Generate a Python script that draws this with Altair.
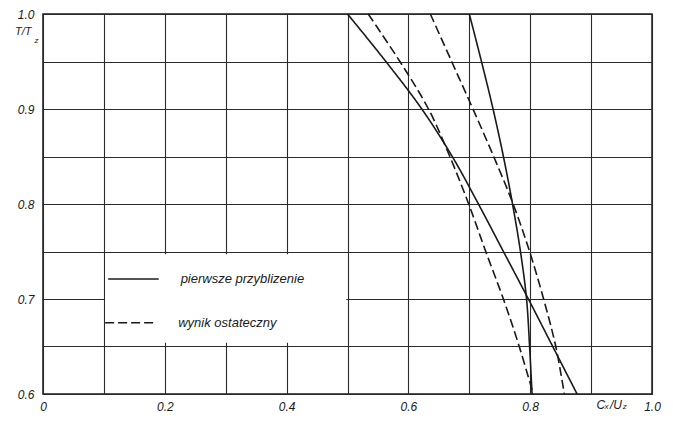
import altair as alt
import pandas as pd

# T/Tz levels at which the curves were read
levels = [1.00, 0.95, 0.90, 0.85, 0.80, 0.75, 0.70, 0.65, 0.60]
# Cx/Uz values of each curve at those levels
solid_a_x = [0.500, 0.563, 0.622, 0.672, 0.715, 0.756, 0.797, 0.837, 0.877]
solid_b_x = [0.700, 0.720, 0.739, 0.756, 0.771, 0.784, 0.794, 0.799, 0.803]
dashed_c_x = [0.534, 0.586, 0.633, 0.668, 0.699, 0.727, 0.756, 0.782, 0.805]
dashed_d_x = [0.636, 0.671, 0.706, 0.740, 0.772, 0.799, 0.822, 0.842, 0.856]

series_names = ["pierwsze przyblizenie", "wynik ostateczny"]

x_ticks = [0.0, 0.1, 0.2, 0.3, 0.4, 0.5, 0.6, 0.7, 0.8, 0.9, 1.0]
y_ticks = [0.60, 0.65, 0.70, 0.75, 0.80, 0.85, 0.90, 0.95, 1.00]

# legend layout (data coordinates)
legend_box = {"x": 0.102, "x2": 0.498, "y": 0.654, "y2": 0.747}
legend_rows = [
    {"name": series_names[0], "x": 0.107, "x2": 0.190, "y": 0.721, "tx": 0.226},
    {"name": series_names[1], "x": 0.102, "x2": 0.186, "y": 0.675, "tx": 0.222},
]

# axis titles, split so subscripts can be smaller and lowered
title_parts = [
    {"t": "T/T", "x": -0.046, "y": 0.981, "s": 11},
    {"t": "z", "x": -0.014, "y": 0.972, "s": 8},
    {"t": "C", "x": 0.909, "y": 0.588, "s": 12},
    {"t": "x", "x": 0.922, "y": 0.586, "s": 8},
    {"t": "/U", "x": 0.931, "y": 0.588, "s": 12},
    {"t": "z", "x": 0.952, "y": 0.586, "s": 8},
]

rows = []
for cid, xs, sname in [
    ("A", solid_a_x, series_names[0]),
    ("B", solid_b_x, series_names[0]),
    ("C", dashed_c_x, series_names[1]),
    ("D", dashed_d_x, series_names[1]),
]:
    for i, (xv, yv) in enumerate(zip(xs, levels)):
        rows.append({"curve": cid, "series": sname, "i": i, "x": xv, "y": yv})
df = pd.DataFrame(rows)

FONT = "Liberation Sans"
INK = "#1a1a1a"

xscale = alt.Scale(domain=[0, 1], nice=False, zero=False)
yscale = alt.Scale(domain=[0.6, 1.0], nice=False, zero=False)
dash_scale = alt.Scale(domain=series_names, range=[[1, 0], [9, 4]])

x_axis = alt.Axis(
    values=x_ticks, grid=True, ticks=False, domain=False, title=None,
    labelExpr="datum.value == 0 ? '0' : (round(datum.value*10) % 2 == 0 && datum.value < 0.95 ? format(datum.value, '.1f') : (datum.value > 0.95 ? '1.0' : ''))",
    labelFont=FONT, labelFontStyle="italic", labelFontSize=12, labelColor=INK,
    labelPadding=7, gridColor="#2a2a2a", gridWidth=1.1, labelFlush=False,
)
y_axis = alt.Axis(
    values=y_ticks, grid=True, ticks=False, domain=False, title=None,
    labelExpr="round(datum.value*100) % 10 == 0 ? format(datum.value, '.1f') : ''",
    labelFont=FONT, labelFontStyle="italic", labelFontSize=12, labelColor=INK,
    labelPadding=9, gridColor="#2a2a2a", gridWidth=1.1, labelFlush=False,
)

box = alt.Chart(pd.DataFrame([legend_box])).mark_rect(color="white").encode(
    x=alt.X("x:Q", scale=xscale, axis=x_axis),
    x2="x2:Q",
    y=alt.Y("y:Q", scale=yscale, axis=y_axis),
    y2="y2:Q",
)

lines = alt.Chart(df).mark_line(color=INK, strokeWidth=1.6, interpolate="catmull-rom").encode(
    x=alt.X("x:Q", scale=xscale),
    y=alt.Y("y:Q", scale=yscale),
    detail="curve:N",
    order="i:Q",
    strokeDash=alt.StrokeDash("series:N", scale=dash_scale, legend=None),
)

leg_df = pd.DataFrame(legend_rows)
leg_lines = alt.Chart(leg_df).mark_rule(color=INK, strokeWidth=1.6).encode(
    x="x:Q", x2="x2:Q", y="y:Q",
    strokeDash=alt.StrokeDash("name:N", scale=dash_scale, legend=None),
)
leg_text = alt.Chart(leg_df).mark_text(
    align="left", baseline="middle", font=FONT, fontStyle="italic", fontSize=13, color=INK
).encode(x="tx:Q", y="y:Q", text="name:N")

titles = alt.Chart(pd.DataFrame(title_parts)).mark_text(
    align="left", baseline="middle", font=FONT, fontStyle="italic", color=INK
).encode(x="x:Q", y="y:Q", text="t:N", size=alt.Size("s:Q", scale=None, legend=None))

chart = alt.layer(box, lines, leg_lines, leg_text, titles).properties(
    width=609, height=380,
    autosize=alt.AutoSizeParams(type="none"),
    padding={"left": 35, "top": 6, "right": 13, "bottom": 21},
    background="white",
).configure_view(stroke=INK, strokeWidth=1.5)

chart.save("out.html", embed_options={"renderer": "svg", "actions": False})
